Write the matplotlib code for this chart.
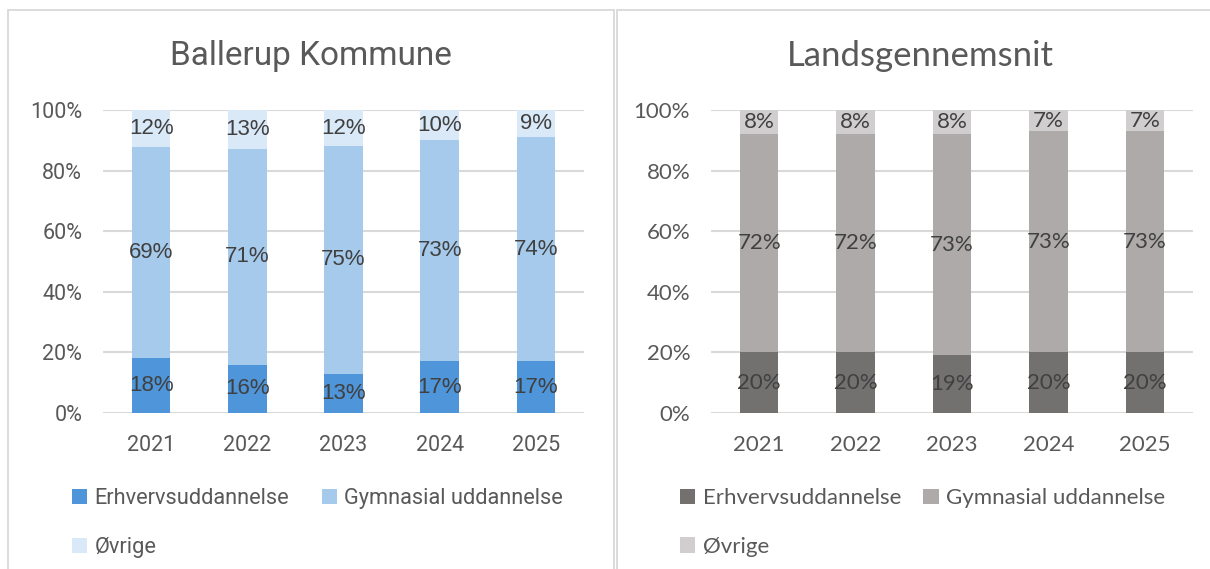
import numpy as np
import matplotlib.pyplot as plt
from matplotlib.patches import Rectangle
from matplotlib.ticker import PercentFormatter

years = ["2021", "2022", "2023", "2024", "2025"]
series = ["Erhvervsuddannelse", "Gymnasial uddannelse", "Øvrige"]

# Ballerup Kommune (andele i %)
ballerup_erhverv = [18, 16, 13, 17, 17]
ballerup_gym = [69, 71, 75, 73, 74]
ballerup_ovrige = [12, 13, 12, 10, 9]

# Landsgennemsnit (andele i %)
lands_erhverv = [20, 20, 19, 20, 20]
lands_gym = [72, 72, 73, 73, 73]
lands_ovrige = [8, 8, 8, 7, 7]

blue_colors = ["#4E95D9", "#A6CAEC", "#DAE9F8"]
grey_colors = ["#737070", "#AEAAAA", "#D0CECE"]

fig = plt.figure(figsize=(12.1, 5.69), dpi=100)

# panel borders
W, H = 1210, 569
for x0, x1 in [(8, 614), (617, 1230)]:
    fig.patches.append(Rectangle((x0 / W, -0.05), (x1 - x0) / W, 1 - 10 / H + 0.05,
                                 transform=fig.transFigure, fill=False,
                                 edgecolor="#D9D9D9", linewidth=1.3))


def draw_panel(rect, title, values, colors, font, label_font, sizes, title_x, legend_x, colspace):
    tick_fs, label_fs, title_fs, leg_fs = sizes
    ax = fig.add_axes(rect)
    x = np.arange(len(years))
    vals = np.array(values, dtype=float)
    vals = vals / vals.sum(axis=0) * 100  # 100% stablet
    bottom = np.zeros(len(years))
    bars = []
    for i, name in enumerate(series):
        b = ax.bar(x, vals[i], 0.4, bottom=bottom, color=colors[i], label=name, zorder=2)
        bars.append(b)
        for j in range(len(years)):
            ax.text(x[j], bottom[j] + vals[i][j] / 2, f"{values[i][j]}%",
                    ha="center", va="center", fontsize=label_fs, color="#404040",
                    family=label_font, zorder=3)
        bottom += vals[i]

    ax.set_xlim(-0.5, len(years) - 0.5)
    ax.set_ylim(0, 100)
    ax.set_yticks(np.arange(0, 101, 20))
    ax.yaxis.set_major_formatter(PercentFormatter(decimals=0))
    ax.set_xticks(x)
    ax.set_xticklabels(years)
    ax.grid(axis="y", color="#D9D9D9", linewidth=1.5, zorder=0)
    for s in ax.spines.values():
        s.set_visible(False)
    ax.tick_params(length=0, labelsize=tick_fs, labelcolor="#595959")
    ax.tick_params(axis="x", pad=16)
    ax.tick_params(axis="y", pad=15)
    for lbl in ax.get_xticklabels() + ax.get_yticklabels():
        lbl.set_family(font)

    fig.text(title_x, 1 - 56 / H, title, ha="center", va="center",
             fontsize=title_fs, color="#595959", family=font)

    # row-wise order: Erhverv, Gymnasial / Øvrige
    order = [0, 2, 1]
    ax.legend([bars[k] for k in order], [series[k] for k in order],
              loc="upper left", bbox_to_anchor=(legend_x, 1 - 488 / H),
              bbox_transform=fig.transFigure, ncol=2, frameon=False,
              prop={"family": font, "size": leg_fs}, labelcolor="#595959",
              handlelength=0.68, handleheight=0.68, handletextpad=0.35,
              columnspacing=colspace, labelspacing=1.3, borderpad=0, borderaxespad=0)
    return ax


draw_panel([103 / W, 1 - 413 / H, 481 / W, 303 / H], "Ballerup Kommune",
           [ballerup_erhverv, ballerup_gym, ballerup_ovrige], blue_colors,
           "Roboto", "Liberation Sans", (15.5, 16, 24, 15.7), 311 / W, 72 / W, 1.5)
draw_panel([711 / W, 1 - 413 / H, 482 / W, 303 / H], "Landsgennemsnit",
           [lands_erhverv, lands_gym, lands_ovrige], grey_colors,
           "Lato", "Lato", (16, 16, 25, 16), 920 / W, 680 / W, 1.0)

plt.savefig("out.png", dpi=100)
